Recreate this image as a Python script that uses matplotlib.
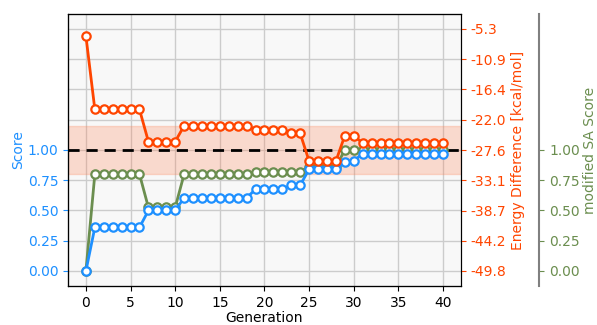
import matplotlib
matplotlib.use("Agg")
import matplotlib.pyplot as plt

# generations 0..40
generation = list(range(41))

score = [0.0] + [0.36] * 6 + [0.50] * 4 + [0.605] * 8 + [0.675] * 4 + [0.71] * 2 \
    + [0.84] * 4 + [0.90, 0.91] + [0.97] * 10

energy = [-6.6] + [-20.1] * 6 + [-26.0] * 4 + [-23.1] * 8 + [-23.8] * 4 + [-24.5] * 2 \
    + [-29.6] * 4 + [-24.9, -24.9] + [-26.3] * 10

sa_score = [0.0] + [0.80] * 6 + [0.525] * 4 + [0.80] * 8 + [0.82] * 6 \
    + [0.86] * 4 + [1.0] * 12

score_ticks = [0.0, 0.25, 0.5, 0.75, 1.0]
grid_extra = [1.25, 1.5, 1.75, 2.0]
energy_ticks = [-49.8, -44.2, -38.7, -33.1, -27.6, -22.0, -16.4, -10.9, -5.3]
target = 1.0
band = (0.8, 1.2)

BLUE = "#1e90ff"
ORANGE = "#ff4500"
GREEN = "#6b8e4f"

fig = plt.figure(figsize=(5.97, 3.25), dpi=100)
ax = fig.add_axes([0.114, 0.12, 0.658, 0.837])
ax2 = ax.twinx()
ax3 = ax.twinx()

# layering: SA axis holds background, grid and band; score above; energy on top
ax3.set_zorder(0)
ax.set_zorder(1)
ax2.set_zorder(2)
ax.patch.set_visible(False)
ax3.patch.set_visible(True)
ax3.patch.set_facecolor("#f8f8f8")

s_lim = (-0.124, 2.124)
ax.set_ylim(*s_lim)
ax3.set_ylim(*s_lim)
ax.set_xlim(-2, 42)

# energy axis aligned so that tick ends sit at score 0 and 2
e0, e2 = energy_ticks[0], energy_ticks[-1]
ax2.set_ylim(e0 + s_lim[0] * (e2 - e0) / 2, e0 + s_lim[1] * (e2 - e0) / 2)

# grid on SA axis (bottom layer)
ax3.xaxis.set_visible(True)
ax3.set_xticks(range(0, 41, 5))
ax3.tick_params(axis="x", bottom=False, labelbottom=False, top=False)
ax3.set_yticks(score_ticks)
ax3.set_yticks(grid_extra, minor=True)
ax3.tick_params(axis="y", which="minor", length=0)
ax3.grid(True, which="both", color="#cccccc", lw=1)
ax3.set_axisbelow(True)

ax3.axhspan(band[0], band[1], color="coral", alpha=0.25, lw=1, zorder=1)
ax3.axhline(target, color="black", ls="--", lw=2, dashes=(4, 2.5), zorder=2)

mk = dict(marker="o", markersize=6, markerfacecolor="white", markeredgewidth=1.6, lw=2)
ax3.plot(generation, sa_score, color=GREEN, zorder=3, **mk)
ax.plot(generation, score, color=BLUE, zorder=3, **mk)
ax2.plot(generation, energy, color=ORANGE, zorder=3, **mk)

ax.set_xticks(range(0, 41, 5))
ax.set_xlabel("Generation", fontsize=10, labelpad=1)
ax.set_yticks(score_ticks)
ax.set_yticklabels([f"{v:.2f}" for v in score_ticks])
ax.set_ylabel("Score", color=BLUE, fontsize=10, labelpad=2)
ax.tick_params(axis="y", colors=BLUE, labelsize=10)
ax.tick_params(axis="x", labelsize=10)

ax2.set_yticks(energy_ticks)
ax2.set_yticklabels([f"{v:.1f}" for v in energy_ticks])
ax2.set_ylabel("Energy Difference [kcal/mol]", color=ORANGE, fontsize=10, labelpad=3)
ax2.tick_params(axis="y", colors=ORANGE, labelsize=10)

ax3.spines["right"].set_position(("axes", 1.2))
ax3.spines["right"].set_color("gray")
ax3.spines["right"].set_linewidth(1.5)
ax3.set_yticklabels([f"{v:.2f}" for v in score_ticks])
ax3.set_ylabel("modified SA Score", color=GREEN, fontsize=10, labelpad=2)
ax3.tick_params(axis="y", which="major", colors=GREEN, labelsize=10)

fig.savefig("out.png", dpi=100)
